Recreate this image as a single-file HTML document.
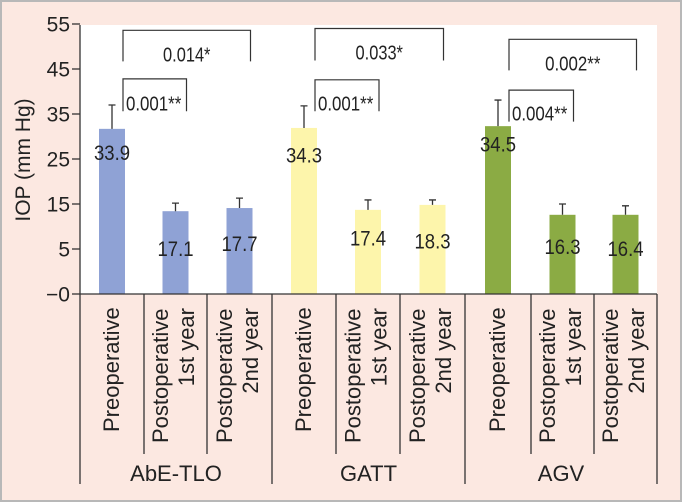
<!DOCTYPE html>
<html><head><meta charset="utf-8"><style>
html,body{margin:0;padding:0;background:#fff;overflow:hidden}
svg{display:block;font-family:"Liberation Sans",sans-serif}
</style></head><body>
<svg id="c" width="682" height="502"></svg>
<script>
const groups = ["AbE-TLO","GATT","AGV"];
const categories = ["Preoperative","Postoperative|1st year","Postoperative|2nd year"];
const barValues = [31.7,13.4,14.1, 31.9,13.7,14.8, 32.3,12.6,12.6];
const errorTops = [37.0,15.2,16.3, 36.8,15.9,15.9, 38.1,15.0,14.6];
const printedLabels = ["33.9","17.1","17.7","34.3","17.4","18.3","34.5","16.3","16.4"];
const labelValues = [26.5,5.1,6.2, 25.9,7.5,6.8, 28.3,5.6,5.1];
const yTicks = [55,45,35,25,15,5,-5];
const yTickLabels = ["55","45","35","25","15","5","\u22120"];
const groupColors = ["#8fa2d5","#fdf5ab","#8bab44"];
// bracket: [fromBar, toBar, topValue, legBottomValue, label]
const brackets = [[0,2,53.6,46.7,"0.014*"],[0,1,42.8,35.6,"0.001**"],
 [3,5,54.0,46.9,"0.033*"],[3,4,42.6,35.6,"0.001**"],
 [6,8,51.6,44.7,"0.002**"],[6,7,40.3,33.3,"0.004**"]];

const svg=document.getElementById('c');
const NS='http://www.w3.org/2000/svg';
function mk(t,a,p){const e=document.createElementNS(NS,t);for(const k in a)e.setAttribute(k,a[k]);(p||svg).appendChild(e);return e;}
const y=v=>249-(v-5)*4.5;
const colL=[80,144,207,272,336,400,465,531,594,657];
const barX=i=>(colL[i]+colL[i+1])/2;
const BW=26;

let e;
e=mk('rect',{x:0,y:0,width:682,height:502,fill:'#fce8e1'});


e=mk('rect',{x:1,y:1,width:680,height:500,fill:'none',stroke:'#b8b8b8','stroke-width':2});


e=mk('rect',{x:80,y:25,width:577,height:269,fill:'#fff'});



e=mk('line',{x1:80,y1:25,x2:80,y2:294,stroke:'#333','stroke-width':1.3});


yTicks.forEach((v,i)=>{
 let t=mk('line',{x1:72,x2:80,y1:y(v),y2:y(v),stroke:'#333','stroke-width':1.3});
 
 
 let l=mk('text',{x:70,y:y(v)+7.5,'text-anchor':'end','font-size':21,fill:'#222'});
 l.textContent=yTickLabels[i];
 
 
});
e=mk('text',{x:0,y:0,transform:'translate(30,160) rotate(-90)','text-anchor':'middle','font-size':21,fill:'#222'});
e.textContent='IOP (mm Hg)';



barValues.forEach((v,i)=>{
 const cx=barX(i);
 let b=mk('rect',{x:cx-BW/2,y:y(v),width:BW,height:294-y(v),fill:groupColors[Math.floor(i/3)]});
 
 
 let er=mk('path',{d:`M${cx},${y(v)}V${y(errorTops[i])}M${cx-3.5},${y(errorTops[i])}H${cx+3.5}`,stroke:'#333','stroke-width':1.3,fill:'none'});
 
 
 let t=mk('text',{x:cx,y:y(labelValues[i])+7.5,'text-anchor':'middle','font-size':21,fill:'#222',textLength:36,lengthAdjust:'spacingAndGlyphs'});
 t.textContent=printedLabels[i];
 
 
});

brackets.forEach(b=>{
 const x1=barX(b[0])+BW/2-2, x2=barX(b[1])+BW/2-2;
 let p=mk('path',{d:`M${x1},${y(b[3])}V${y(b[2])}H${x2}V${y(b[3])}`,stroke:'#333','stroke-width':1.2,fill:'none'});
 
 
 const big=(b[1]-b[0])===2;
 let t=mk('text',{x:big?(x1+x2)/2:x1+3,y:big?y(b[2])+31:y(b[3])-1,'text-anchor':big?'middle':'start','font-size':20,fill:'#222',textLength:b[4].length*7.9,lengthAdjust:'spacingAndGlyphs'});
 t.textContent=b[4];
 
 
});

e=mk('line',{x1:80,y1:294,x2:657,y2:294,stroke:'#333','stroke-width':1.3});


colL.forEach((x,i)=>{
 const g=(i%3===0);
 let l=mk('line',{x1:x,x2:x,y1:294,y2:g?484:454,stroke:'#333','stroke-width':1.3});
 
 
});
barValues.forEach((v,i)=>{
 const cx=barX(i);
 const lines=categories[i%3].split('|');
 if(lines.length===1){
  let t=mk('text',{transform:`translate(${cx},300) rotate(-90)`,x:-132,y:7,'text-anchor':'start','font-size':22,fill:'#222'});
  t.textContent=lines[0];
  
  
 } else {
  let t1=mk('text',{transform:`translate(${cx},300) rotate(-90)`,x:-143,y:-7.5,'text-anchor':'start','font-size':22,fill:'#222'});
  t1.textContent=lines[0];
  
  
  let t2=mk('text',{transform:`translate(${cx},300) rotate(-90)`,x:-8,y:18.5,'text-anchor':'end','font-size':22,fill:'#222'});
  t2.textContent=lines[1];
  
  
 }
});
groups.forEach((g,i)=>{
 let t=mk('text',{x:(colL[i*3]+colL[i*3+3])/2,y:481,'text-anchor':'middle','font-size':22,fill:'#222'});
 t.textContent=g;
 
 
});
</script>
</body></html>
